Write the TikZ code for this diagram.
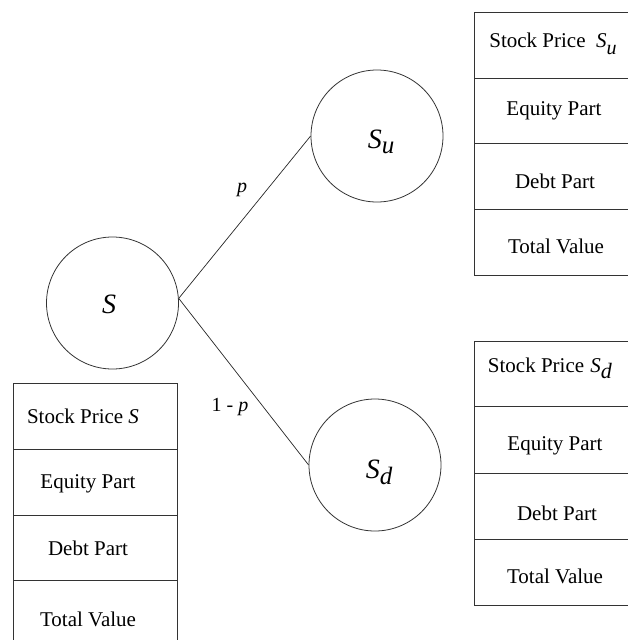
\documentclass[tikz,border=0pt]{standalone}
\usepackage{fontspec}
\setmainfont{Liberation Serif}
\newcommand\stocksub[3]{\textit{S}\raisebox{-#1}{\fontsize{#2}{#2}\selectfont\textit{#3}}}
\begin{document}
\begin{tikzpicture}[x=1pt, y=-1pt,
  state/.style={circle, draw=black!80, line width=0.8pt, minimum size=132pt, inner sep=0pt},
  statetext/.style={inner sep=0pt, font=\fontsize{28}{30}\selectfont\itshape},
  branch/.style={draw=black!85, line width=0.7pt},
  cell/.style={draw=black!80, line width=0.8pt},
  celltext/.style={anchor=base, inner sep=0pt, font=\fontsize{21}{24}\selectfont},
  prob/.style={inner sep=0pt, font=\fontsize{20}{24}\selectfont},
]
\path[use as bounding box] (0,0) rectangle (628,640);
\clip (0,0) rectangle (628,640);

% binomial tree
\node[state] (S)  at (112.5,303) {};
\node[state] (Su) at (377,136) {};
\node[state] (Sd) at (375,465) {};
\node[statetext] (Slbl)  at (109,304) {S};
\node[statetext] (Sulbl) at (381,142) {S\raisebox{-5pt}{\fontsize{25}{25}\selectfont u}};
\node[statetext] (Sdlbl) at (379,472) {S\raisebox{-6pt}{\fontsize{25}{25}\selectfont d}};

\draw[branch] (S.4) -- (Su.west);
\draw[branch] (S.4) -- (Sd.west);

\node[prob] (pu) at (242,190) {\textit{p}};
\node[prob] (pd) at (230,407) {1 - \textit{p}};

% value table at the root
\draw[cell] (13,700) -- (13,383) -- (177,383) -- (177,700);
\foreach \y in {449,515,580} \draw[cell] (13,\y) -- (177,\y);
\node[celltext] (l1) at (83,423) {Stock Price \textit{S}};
\node[celltext] (l2) at (88,488) {Equity Part};
\node[celltext] (l3) at (88,555) {Debt Part};
\node[celltext] (l4) at (88,626) {Total Value};

% value table, up state
\draw[cell] (700,12) -- (474,12) -- (474,275) -- (700,275);
\foreach \y in {78,143,209} \draw[cell] (474,\y) -- (700,\y);
\node[celltext] (u1) at (553,47) {Stock Price\hspace{0.5em}\stocksub{7pt}{20}{u}};
\node[celltext] (u2) at (554,115) {Equity Part};
\node[celltext] (u3) at (555,188) {Debt Part};
\node[celltext] (u4) at (556,253) {Total Value};

% value table, down state
\draw[cell] (700,341) -- (474,341) -- (474,605) -- (700,605);
\foreach \y in {406,473,539} \draw[cell] (474,\y) -- (700,\y);
\node[celltext] (d1) at (550,372) {Stock Price\hspace{0.3em}\stocksub{6pt}{22}{d}};
\node[celltext] (d2) at (555,450) {Equity Part};
\node[celltext] (d3) at (557,520) {Debt Part};
\node[celltext] (d4) at (555,583) {Total Value};
\end{tikzpicture}
\end{document}
